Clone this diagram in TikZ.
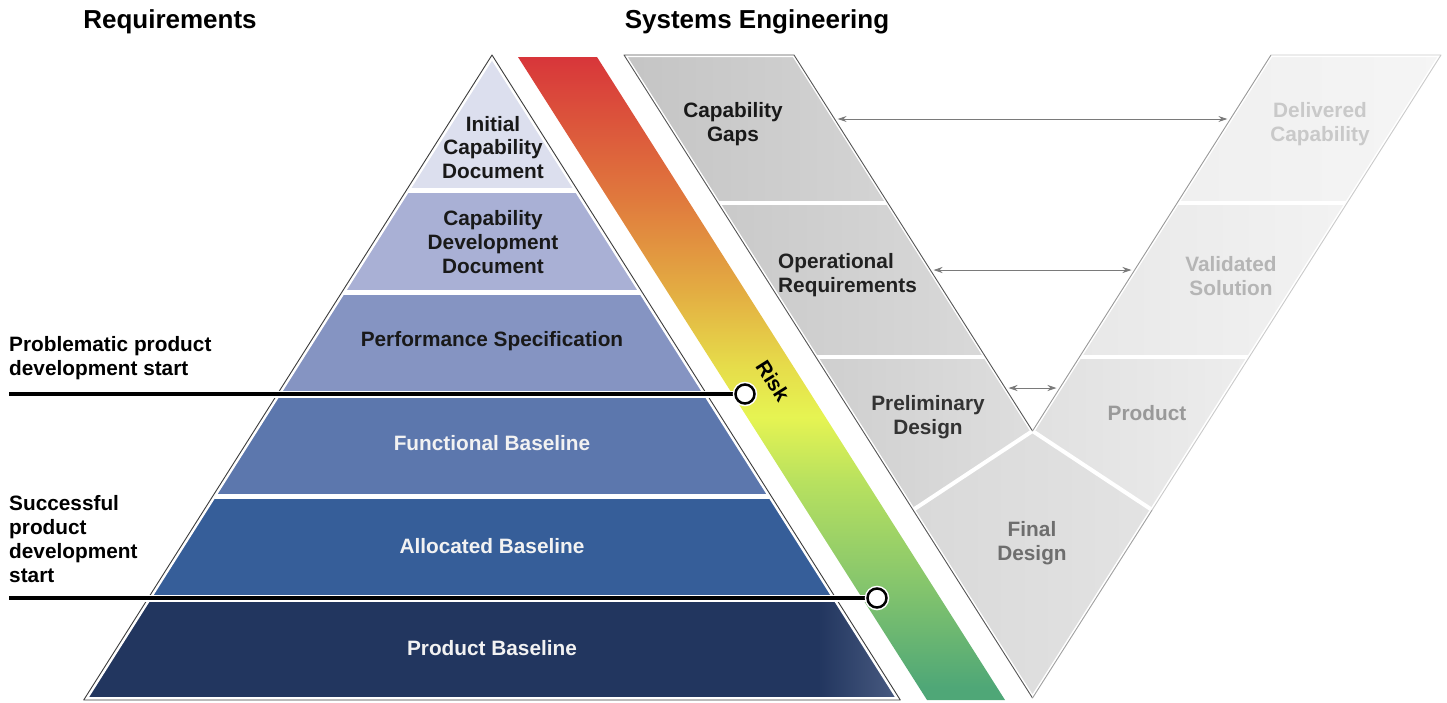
\documentclass[tikz,border=0pt]{standalone}
\usepackage{fontspec}
\setmainfont{Liberation Sans}
\usepackage{tikz}
\usetikzlibrary{arrows.meta}

\definecolor{icdfill}{HTML}{DCDFEE}
\definecolor{cddfill}{HTML}{A9B0D5}
\definecolor{psfill}{HTML}{8594C2}
\definecolor{fbfill}{HTML}{5C77AD}
\definecolor{abfill}{HTML}{365E99}
\definecolor{pbdark}{HTML}{22365F}
\definecolor{pblight}{HTML}{4A5C82}
\definecolor{pyredge}{HTML}{3C3C3C}
\definecolor{rkred}{HTML}{D8363A}
\definecolor{rkorange}{HTML}{E0793D}
\definecolor{rkamber}{HTML}{E3AB42}
\definecolor{rkgold}{HTML}{E6DC4A}
\definecolor{rkyellow}{HTML}{E6F452}
\definecolor{rklime}{HTML}{B8E15F}
\definecolor{rkmid}{HTML}{8CC96B}
\definecolor{rkgreen}{HTML}{4FA777}
\definecolor{vdark}{HTML}{555555}
\definecolor{vmid}{HTML}{999999}
\definecolor{vlight}{HTML}{CACACA}
\definecolor{vlow}{HTML}{A0A0A0}
\definecolor{arrowgray}{HTML}{7A7A7A}

\pgfdeclarehorizontalshading{prodbase}{100bp}{color(0bp)=(pbdark); color(70bp)=(pbdark); color(75bp)=(pblight); color(100bp)=(pblight)}
\pgfdeclareverticalshading{riskband}{100bp}{color(0bp)=(rkgreen); color(26bp)=(rkgreen); color(35bp)=(rkmid); color(42bp)=(rklime); color(47bp)=(rkyellow); color(51bp)=(rkgold); color(57bp)=(rkamber); color(64bp)=(rkorange); color(75bp)=(rkred); color(100bp)=(rkred)}

\newcommand\pyrstrip[3]{%
	\path[#3] ({492-0.633*(#1-55)},#1) -- ({492+0.633*(#1-55)},#1) -- ({492+0.633*(#2-55)},#2) -- ({492-0.633*(#2-55)},#2) -- cycle;}

\tikzset{
	labelfont/.style={font=\bfseries\fontsize{20.8}{23.8}\selectfont},
	titletext/.style={font=\bfseries\fontsize{26}{30}\selectfont, inner sep=0pt},
	pyrtext/.style={labelfont, align=center, inner sep=0pt, text=black!90},
	pyrtextw/.style={labelfont, align=center, inner sep=0pt, text=white!95!black},
	vtext/.style={labelfont, align=center, inner sep=0pt},
	sidetext/.style={labelfont, align=left, inner sep=0pt, anchor=west},
	pyrgap/.style={white, line width=5pt},
	vgap/.style={white, line width=4pt},
	halo/.style={white, line width=#1, line join=round},
	edgeline/.style={draw=#1, line width=0.9pt, line join=round},
	varrow/.style={arrowgray, line width=1pt, {Stealth[length=9pt,width=6pt]}-{Stealth[length=9pt,width=6pt]}},
	startline/.style={black, line width=4pt, preaction={draw=white, line width=7pt}},
	riskdot/.style={circle, fill=white, draw=black, line width=2.5pt, minimum size=19pt, inner sep=0pt, preaction={draw=white, line width=5.5pt}}
}

\begin{document}
\begin{tikzpicture}[x=1pt,y=-1pt]
	\useasboundingbox (0,0) rectangle (1447,702);

	\node[titletext] (reqtitle) at (170,22) {Requirements};
	\node[titletext] (setitle) at (757,22) {Systems Engineering};

	\pyrstrip{55}{190}{fill=icdfill}
	\pyrstrip{190}{292}{fill=cddfill}
	\pyrstrip{292}{394}{fill=psfill}
	\pyrstrip{394}{496}{fill=fbfill}
	\pyrstrip{496}{598}{fill=abfill}
	\pyrstrip{598}{700}{shade,shading=prodbase}
	\foreach \sy in {190,292,394,496,598}
		\draw[pyrgap] ({492-0.633*(\sy-55)},\sy) -- ({492+0.633*(\sy-55)},\sy);
	\coordinate (apex) at (492,55);
	\coordinate (pyrL) at (83.7,700);
	\coordinate (pyrR) at (900.3,700);
	\draw[halo=6pt] (apex) -- (pyrR) -- (pyrL) -- cycle;
	\draw[edgeline=pyredge] (apex) -- (pyrR) -- (pyrL) -- cycle;

	\node[pyrtext] (icd) at (493,147.5) {Initial\\Capability\\Document};
	\node[pyrtext] (cdd) at (493,242) {Capability\\Development\\Document};
	\node[pyrtext] (perfspec) at (492,341) {Performance Specification};
	\node[pyrtextw] (funcbase) at (492,443) {Functional Baseline};
	\node[pyrtextw] (allocbase) at (492,546) {Allocated Baseline};
	\node[pyrtextw] (prodbase) at (492,648) {Product Baseline};

	\shade[shading=riskband] (518,57) -- (597,57) -- (1005,700) -- (927,700) -- cycle;
	\node[labelfont, inner sep=0pt, rotate=-57.7] (risk) at (773,381) {Risk};

	\coordinate (VA) at (624,55);
	\coordinate (VB) at (794,55);
	\coordinate (VC) at (1032.5,431);
	\coordinate (VD) at (1271,55);
	\coordinate (VE) at (1441,55);
	\coordinate (VF) at (1032.5,698);
	\coordinate (sepLo1) at (718,203);
	\coordinate (sepLi1) at (888,203);
	\coordinate (sepLo2) at (815.8,357);
	\coordinate (sepLi2) at (985.8,357);
	\coordinate (sepRi1) at (1177,203);
	\coordinate (sepRo1) at (1347,203);
	\coordinate (sepRi2) at (1079.2,357);
	\coordinate (sepRo2) at (1249.2,357);
	\coordinate (fdL) at (912.9,510);
	\coordinate (fdR) at (1152.1,510);

	\path[left color=black!23, right color=black!17] (VA) -- (VB) -- (sepLi1) -- (sepLo1) -- cycle;
	\path[left color=black!21, right color=black!15] (sepLo1) -- (sepLi1) -- (sepLi2) -- (sepLo2) -- cycle;
	\path[left color=black!19, right color=black!13] (sepLo2) -- (sepLi2) -- (VC) -- (fdL) -- cycle;
	\path[left color=black!15, right color=black!11] (VC) -- (fdR) -- (VF) -- (fdL) -- cycle;
	\path[left color=black!12, right color=black!7] (VC) -- (sepRi2) -- (sepRo2) -- (fdR) -- cycle;
	\path[left color=black!9, right color=black!5] (sepRi1) -- (sepRo1) -- (sepRo2) -- (sepRi2) -- cycle;
	\path[left color=black!6, right color=black!4] (VD) -- (VE) -- (sepRo1) -- (sepRi1) -- cycle;
	\draw[vgap] (sepLo1) -- (sepLi1);
	\draw[vgap] (sepLo2) -- (sepLi2);
	\draw[vgap] (sepRi1) -- (sepRo1);
	\draw[vgap] (sepRi2) -- (sepRo2);
	\draw[vgap] (fdL) -- (VC) -- (fdR);
	\draw[halo=4pt] (VA) -- (VB) -- (VC) -- (VD) -- (VE) -- (VF) -- cycle;
	\draw[edgeline=vdark] (VF) -- (VA) -- (VB) -- (VC);
	\draw[edgeline=vmid] (VC) -- (VD);
	\draw[edgeline=vlight] (VD) -- (VE) -- (fdR);
	\draw[edgeline=vlow] (fdR) -- (VF);

	\node[vtext, text=black!90] (capgaps) at (733,124) {Capability\\Gaps};
	\node[vtext, align=left, anchor=west, text=black!87] (opreq) at (778,275.5) {Operational\\Requirements};
	\node[vtext, text=black!80] (prelim) at (928,417) {Preliminary\\Design};
	\node[vtext, text=black!57] (final) at (1032,543) {Final\\Design};
	\node[vtext, text=black!40] (product) at (1147,413) {Product};
	\node[vtext, text=black!29] (validated) at (1231,276) {Validated\\Solution};
	\node[vtext, text=black!21] (delivered) at (1320,124) {Delivered\\Capability};

	\coordinate (gapsL) at (837.6,119);
	\coordinate (gapsR) at (1227.4,119);
	\coordinate (opsL) at (933.5,270);
	\coordinate (opsR) at (1131.5,270);
	\coordinate (preL) at (1008.5,388);
	\coordinate (preR) at (1056.5,388);
	\draw[varrow] (gapsL) -- (gapsR);
	\draw[varrow] (opsL) -- (opsR);
	\draw[varrow] (preL) -- (preR);

	\node[sidetext] (probtext) at (9,358) {Problematic product\\development start};
	\node[sidetext] (succtext) at (9,539) {Successful\\product\\development\\start};
	\coordinate (probstart) at (9,394);
	\coordinate (probpt) at (745,394);
	\coordinate (succstart) at (9,598);
	\coordinate (succpt) at (877,598);
	\draw[startline] (probstart) -- (probpt);
	\draw[startline] (succstart) -- (succpt);
	\node[riskdot] (probdot) at (probpt) {};
	\node[riskdot] (succdot) at (succpt) {};
\end{tikzpicture}
\end{document}
